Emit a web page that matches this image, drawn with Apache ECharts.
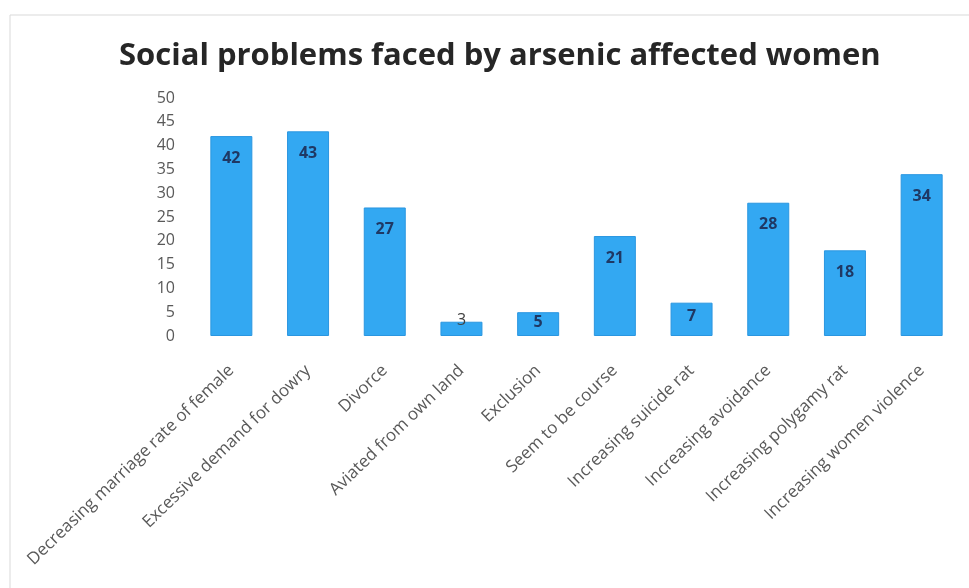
<!DOCTYPE html>
<html>
<head>
<meta charset="utf-8">
<script src="https://cdn.jsdelivr.net/npm/echarts@6/dist/echarts.min.js"></script>
<style>
  html, body { margin: 0; padding: 0; background: #fff; }
  #chart { width: 969px; height: 588px; }
</style>
</head>
<body>
<div id="chart"></div>
<script>
const categories = [
  'Decreasing marriage rate of female',
  'Excessive demand for dowry',
  'Divorce',
  'Aviated from own land',
  'Exclusion',
  'Seem to be course',
  'Increasing suicide rat',
  'Increasing avoidance',
  'Increasing polygamy rat',
  'Increasing women violence'
];
const values = [42, 43, 27, 3, 5, 21, 7, 28, 18, 34];
const yTicks = { min: 0, max: 50, interval: 5 };

const chart = echarts.init(document.getElementById('chart'));

// short bars: Excel pushes the label up toward / above the bar top
const barData = values.map(v => {
  if (v < 4) {
    return { value: v, label: { position: 'top', distance: -7, fontWeight: 'normal', color: '#404040' } };
  }
  if (v < 10) {
    return { value: v, label: { distance: (v - 4) * 2 } };
  }
  return v;
});

const option = {
  backgroundColor: '#fff',
  animation: false,
  graphic: [{
    type: 'rect',
    shape: { x: 10, y: 15, width: 980, height: 600 },
    style: { fill: 'none', stroke: '#d9d9d9', lineWidth: 1 }
  }],
  title: {
    text: 'Social problems faced by arsenic affected women',
    left: 114,
    top: 36,
    textStyle: {
      fontFamily: 'Open Sans',
      fontSize: 31,
      fontWeight: 'bold',
      color: '#262626'
    }
  },
  grid: { left: 193, right: 9, top: 98, bottom: 252 },
  xAxis: {
    type: 'category',
    data: categories,
    axisLine: { show: false },
    axisTick: { show: false },
    axisLabel: {
      rotate: 44,
      interval: 0,
      margin: 32,
      fontFamily: 'Open Sans',
      fontSize: 17,
      color: '#595959'
    }
  },
  yAxis: {
    type: 'value',
    min: yTicks.min,
    max: yTicks.max,
    interval: yTicks.interval,
    splitLine: { show: false },
    axisLine: { show: false },
    axisTick: { show: false },
    axisLabel: {
      margin: 18,
      fontFamily: 'Open Sans',
      fontSize: 16,
      color: '#595959'
    }
  },
  series: [{
    type: 'bar',
    data: barData,
    barWidth: 42,
    itemStyle: { color: '#33a8f2', borderColor: '#2a96e0', borderWidth: 1 },
    label: {
      show: true,
      position: 'insideTop',
      distance: 14,
      fontFamily: 'Open Sans',
      fontSize: 16,
      fontWeight: 'bold',
      color: '#1f3864'
    }
  }]
};

chart.setOption(option);
window.addEventListener('resize', () => chart.resize());
</script>
</body>
</html>
